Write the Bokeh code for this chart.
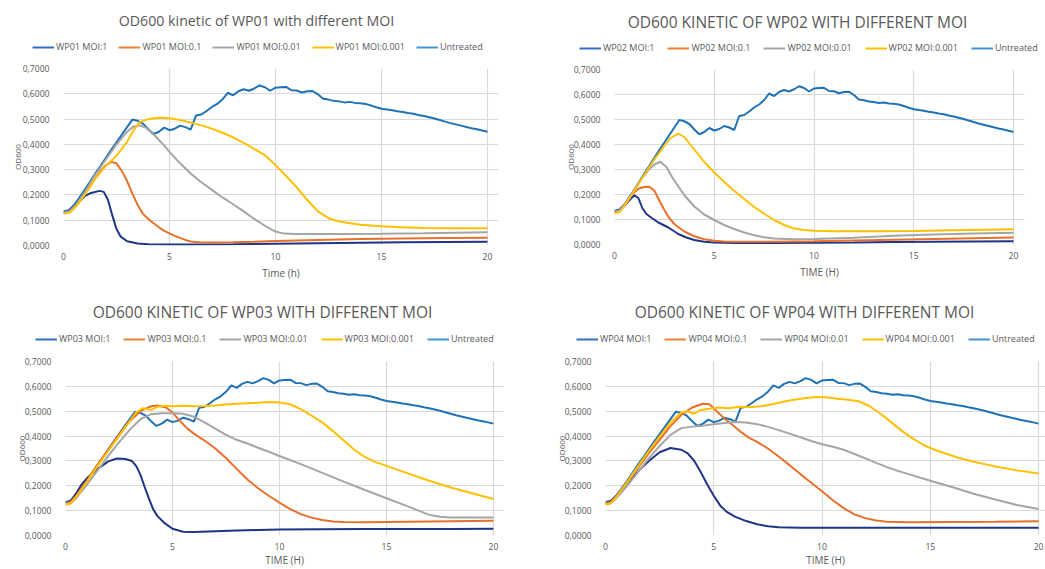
from bokeh.plotting import figure
from bokeh.layouts import column, row
from bokeh.models import (Legend, LegendItem, Label, FixedTicker,
                          CustomJSTickFormatter, Range1d)
from bokeh.embed import file_html
from bokeh.resources import INLINE

# ---------------------------------------------------------------------------
# OD600 readings, (time in hours, OD600)
# ---------------------------------------------------------------------------
UNTREATED = [
    (0, 0.135), (0.25, 0.140), (0.5, 0.160), (0.75, 0.190), (1.0, 0.220),
    (1.25, 0.252), (1.5, 0.285), (1.75, 0.315), (2.0, 0.347), (2.25, 0.378),
    (2.5, 0.408), (2.75, 0.438), (3.0, 0.468), (3.25, 0.498), (3.5, 0.493),
    (3.75, 0.482), (4.0, 0.460), (4.25, 0.441), (4.5, 0.450), (4.75, 0.466),
    (5.0, 0.456), (5.25, 0.462), (5.5, 0.474), (5.75, 0.468), (6.0, 0.458),
    (6.25, 0.514), (6.5, 0.518), (6.75, 0.532), (7.0, 0.548), (7.25, 0.560),
    (7.5, 0.578), (7.75, 0.604), (8.0, 0.594), (8.25, 0.610), (8.5, 0.618),
    (8.75, 0.612), (9.0, 0.621), (9.25, 0.633), (9.5, 0.626), (9.75, 0.612),
    (10.0, 0.624), (10.25, 0.626), (10.5, 0.627), (10.75, 0.614), (11.0, 0.613),
    (11.25, 0.605), (11.5, 0.610), (11.75, 0.611), (12.0, 0.598), (12.25, 0.580),
    (12.5, 0.577), (12.75, 0.572), (13.0, 0.570), (13.25, 0.566), (13.5, 0.568),
    (13.75, 0.564), (14.0, 0.563), (14.25, 0.560), (14.5, 0.554), (14.75, 0.547),
    (15.0, 0.541), (15.25, 0.538), (15.5, 0.535), (15.75, 0.531), (16.0, 0.528),
    (16.25, 0.524), (16.5, 0.521), (16.75, 0.516), (17.0, 0.512), (17.25, 0.507),
    (17.5, 0.502), (17.75, 0.496), (18.0, 0.490), (18.25, 0.484), (18.5, 0.479),
    (18.75, 0.474), (19.0, 0.469), (19.25, 0.464), (19.5, 0.460), (19.75, 0.455),
    (20.0, 0.450),
]

WP01_MOI_1 = [
    (0, 0.130), (0.3, 0.132), (0.6, 0.160), (1.0, 0.195), (1.3, 0.208),
    (1.7, 0.216), (1.9, 0.212), (2.1, 0.180), (2.3, 0.120), (2.5, 0.065),
    (2.7, 0.035), (3.0, 0.017), (3.5, 0.008), (4.0, 0.005), (5.0, 0.004),
    (6.0, 0.004), (8.0, 0.005), (10.0, 0.007), (12.0, 0.009), (14.0, 0.011),
    (16.0, 0.013), (18.0, 0.014), (20.0, 0.015),
]
WP01_MOI_0_1 = [
    (0, 0.130), (0.25, 0.132), (0.5, 0.150), (0.75, 0.175), (1.0, 0.205),
    (1.25, 0.235), (1.5, 0.265), (1.75, 0.295), (2.0, 0.318), (2.25, 0.330),
    (2.5, 0.325), (2.75, 0.295), (3.0, 0.255), (3.25, 0.205), (3.5, 0.160),
    (3.75, 0.125), (4.0, 0.105), (4.25, 0.088), (4.5, 0.072), (4.75, 0.058),
    (5.0, 0.048), (5.25, 0.038), (5.5, 0.030), (5.75, 0.022), (6.0, 0.016),
    (6.5, 0.012), (7.0, 0.012), (8.0, 0.013), (9.0, 0.015), (10.0, 0.018),
    (11.0, 0.020), (12.0, 0.022), (13.0, 0.024), (14.0, 0.026), (15.0, 0.027),
    (16.0, 0.028), (17.0, 0.029), (18.0, 0.030), (20.0, 0.031),
]
WP01_MOI_0_01 = [
    (0, 0.130), (0.3, 0.135), (0.6, 0.160), (1.0, 0.210), (1.5, 0.280),
    (2.0, 0.340), (2.5, 0.400), (3.0, 0.450), (3.3, 0.470), (3.6, 0.475),
    (3.9, 0.465), (4.3, 0.435), (4.7, 0.400), (5.0, 0.370), (5.5, 0.325),
    (6.0, 0.285), (6.5, 0.250), (7.0, 0.220), (7.5, 0.190), (8.0, 0.163),
    (8.5, 0.135), (9.0, 0.105), (9.5, 0.078), (10.0, 0.055), (10.4, 0.047),
    (11.0, 0.045), (13.0, 0.045), (15.0, 0.046), (17.0, 0.048), (20.0, 0.052),
]
WP01_MOI_0_001 = [
    (0, 0.125), (0.3, 0.130), (0.6, 0.155), (1.0, 0.200), (1.5, 0.265),
    (2.0, 0.315), (2.5, 0.355), (3.0, 0.410), (3.3, 0.455), (3.6, 0.488),
    (4.0, 0.500), (4.5, 0.505), (5.0, 0.503), (5.5, 0.496), (6.0, 0.486),
    (6.5, 0.475), (7.0, 0.462), (7.5, 0.446), (8.0, 0.428), (8.5, 0.406),
    (9.0, 0.382), (9.5, 0.357), (10.0, 0.318), (10.5, 0.275), (11.0, 0.230),
    (11.5, 0.180), (12.0, 0.135), (12.5, 0.108), (13.0, 0.095), (14.0, 0.082),
    (15.0, 0.076), (16.0, 0.072), (17.0, 0.069), (18.0, 0.068), (20.0, 0.068),
]

WP02_MOI_1 = [
    (0, 0.130), (0.25, 0.135), (0.5, 0.155), (0.75, 0.178), (1.0, 0.197),
    (1.2, 0.185), (1.4, 0.145), (1.6, 0.122), (1.8, 0.110), (2.2, 0.088),
    (2.7, 0.068), (3.2, 0.042), (3.6, 0.028), (4.0, 0.018), (4.5, 0.011),
    (5.0, 0.008), (6.0, 0.006), (8.0, 0.006), (10.0, 0.007), (12.0, 0.008),
    (14.0, 0.010), (16.0, 0.011), (18.0, 0.012), (20.0, 0.013),
]
WP02_MOI_0_1 = [
    (0, 0.130), (0.25, 0.135), (0.5, 0.157), (0.75, 0.185), (1.0, 0.210),
    (1.25, 0.225), (1.5, 0.230), (1.75, 0.231), (2.0, 0.215), (2.25, 0.175),
    (2.5, 0.138), (2.75, 0.105), (3.0, 0.082), (3.25, 0.066), (3.5, 0.052),
    (4.0, 0.033), (4.5, 0.021), (5.0, 0.015), (5.5, 0.012), (6.0, 0.011),
    (8.0, 0.011), (10.0, 0.013), (12.0, 0.016), (14.0, 0.019), (16.0, 0.022),
    (18.0, 0.025), (20.0, 0.028),
]
WP02_MOI_0_01 = [
    (0, 0.130), (0.25, 0.135), (0.5, 0.158), (0.75, 0.188), (1.0, 0.220),
    (1.25, 0.250), (1.5, 0.278), (1.75, 0.302), (2.0, 0.320), (2.3, 0.331),
    (2.6, 0.310), (2.9, 0.268), (3.2, 0.232), (3.5, 0.197), (4.0, 0.152),
    (4.5, 0.120), (5.0, 0.098), (5.5, 0.078), (6.0, 0.062), (6.5, 0.048),
    (7.0, 0.037), (7.5, 0.029), (8.0, 0.024), (9.0, 0.021), (10.0, 0.022),
    (12.0, 0.027), (14.0, 0.035), (16.0, 0.040), (18.0, 0.044), (20.0, 0.047),
]
WP02_MOI_0_001 = [
    (0, 0.125), (0.25, 0.130), (0.5, 0.155), (0.75, 0.185), (1.0, 0.215),
    (1.5, 0.280), (2.0, 0.340), (2.5, 0.395), (2.8, 0.425), (3.2, 0.444),
    (3.5, 0.430), (3.9, 0.390), (4.5, 0.330), (5.0, 0.288), (5.5, 0.250),
    (6.0, 0.215), (6.5, 0.182), (7.0, 0.150), (7.5, 0.123), (8.0, 0.098),
    (8.5, 0.078), (9.0, 0.064), (9.5, 0.058), (10.0, 0.055), (11.0, 0.053),
    (13.0, 0.053), (15.0, 0.054), (17.0, 0.057), (20.0, 0.061),
]

WP03_MOI_1 = [
    (0, 0.130), (0.25, 0.140), (0.5, 0.170), (0.75, 0.205), (1.0, 0.230),
    (1.5, 0.268), (2.0, 0.298), (2.4, 0.310), (2.8, 0.308), (3.1, 0.300),
    (3.3, 0.280), (3.5, 0.245), (3.7, 0.195), (3.9, 0.148), (4.1, 0.105),
    (4.3, 0.078), (4.6, 0.052), (5.0, 0.027), (5.5, 0.015), (6.0, 0.014),
    (7.0, 0.017), (8.0, 0.020), (9.0, 0.022), (10.0, 0.024), (12.0, 0.025),
    (14.0, 0.026), (16.0, 0.026), (18.0, 0.026), (20.0, 0.027),
]
WP03_MOI_0_1 = [
    (0, 0.130), (0.25, 0.135), (0.5, 0.160), (0.75, 0.190), (1.0, 0.220),
    (1.5, 0.285), (2.0, 0.345), (2.5, 0.405), (3.0, 0.460), (3.5, 0.500),
    (4.0, 0.520), (4.3, 0.523), (4.7, 0.515), (5.0, 0.495), (5.3, 0.465),
    (5.7, 0.430), (6.0, 0.410), (6.5, 0.382), (7.0, 0.350), (7.5, 0.312),
    (8.0, 0.268), (8.5, 0.225), (9.0, 0.190), (9.5, 0.160), (10.0, 0.132),
    (10.5, 0.106), (11.0, 0.086), (11.5, 0.072), (12.0, 0.062), (12.5, 0.056),
    (13.0, 0.054), (14.0, 0.053), (16.0, 0.055), (18.0, 0.057), (20.0, 0.059),
]
WP03_MOI_0_01 = [
    (0, 0.125), (0.25, 0.130), (0.5, 0.150), (0.75, 0.178), (1.0, 0.205),
    (1.5, 0.262), (2.0, 0.320), (2.5, 0.375), (3.0, 0.425), (3.5, 0.468),
    (4.0, 0.488), (4.5, 0.492), (5.0, 0.492), (5.5, 0.490), (6.0, 0.478),
    (6.5, 0.455), (7.0, 0.430), (7.5, 0.405), (8.0, 0.385), (8.5, 0.370),
    (9.0, 0.353), (9.5, 0.337), (10.0, 0.320), (11.0, 0.287), (12.0, 0.252),
    (13.0, 0.217), (14.0, 0.183), (15.0, 0.150), (16.0, 0.117), (16.5, 0.100),
    (17.0, 0.083), (17.5, 0.075), (18.0, 0.072), (20.0, 0.072),
]
WP03_MOI_0_001 = [
    (0, 0.125), (0.25, 0.130), (0.5, 0.155), (0.75, 0.185), (1.0, 0.215),
    (1.5, 0.280), (2.0, 0.340), (2.5, 0.400), (3.0, 0.460), (3.3, 0.495),
    (3.6, 0.512), (4.0, 0.505), (4.3, 0.518), (4.7, 0.522), (5.0, 0.520),
    (5.5, 0.522), (6.0, 0.520), (6.5, 0.521), (7.0, 0.523), (7.5, 0.527),
    (8.0, 0.530), (8.5, 0.532), (9.0, 0.534), (9.5, 0.537), (10.0, 0.535),
    (10.5, 0.528), (11.0, 0.508), (11.5, 0.482), (12.0, 0.455), (12.5, 0.420),
    (13.0, 0.382), (13.5, 0.345), (14.0, 0.315), (14.5, 0.295), (15.0, 0.280),
    (15.5, 0.265), (16.0, 0.250), (17.0, 0.220), (18.0, 0.193), (19.0, 0.170),
    (20.0, 0.147),
]

WP04_MOI_1 = [
    (0, 0.130), (0.25, 0.137), (0.5, 0.160), (0.75, 0.185), (1.0, 0.210),
    (1.5, 0.258), (2.0, 0.300), (2.5, 0.335), (3.0, 0.352), (3.5, 0.345),
    (3.8, 0.330), (4.1, 0.300), (4.4, 0.255), (4.7, 0.205), (5.0, 0.160),
    (5.3, 0.120), (5.6, 0.095), (6.0, 0.075), (6.5, 0.058), (7.0, 0.045),
    (7.5, 0.037), (8.0, 0.033), (9.0, 0.031), (12.0, 0.031), (16.0, 0.031),
    (20.0, 0.031),
]
WP04_MOI_0_1 = [
    (0, 0.130), (0.25, 0.135), (0.5, 0.157), (0.75, 0.185), (1.0, 0.213),
    (1.5, 0.272), (2.0, 0.330), (2.5, 0.385), (3.0, 0.440), (3.5, 0.485),
    (4.0, 0.515), (4.5, 0.530), (4.8, 0.528), (5.2, 0.495), (5.5, 0.470),
    (5.8, 0.450), (6.2, 0.420), (6.6, 0.395), (7.0, 0.377), (7.5, 0.350),
    (8.0, 0.318), (8.5, 0.283), (9.0, 0.247), (9.5, 0.212), (10.0, 0.178),
    (10.5, 0.142), (11.0, 0.110), (11.5, 0.085), (12.0, 0.070), (12.5, 0.060),
    (13.0, 0.055), (14.0, 0.053), (16.0, 0.054), (18.0, 0.055), (20.0, 0.057),
]
WP04_MOI_0_01 = [
    (0, 0.125), (0.25, 0.130), (0.5, 0.150), (0.75, 0.175), (1.0, 0.200),
    (1.5, 0.255), (2.0, 0.310), (2.5, 0.360), (3.0, 0.405), (3.5, 0.432),
    (4.0, 0.438), (4.5, 0.442), (5.0, 0.448), (5.5, 0.453), (6.0, 0.457),
    (6.5, 0.455), (7.0, 0.448), (7.5, 0.437), (8.0, 0.424), (8.5, 0.410),
    (9.0, 0.395), (9.5, 0.380), (10.0, 0.367), (10.5, 0.357), (11.0, 0.345),
    (11.5, 0.328), (12.0, 0.310), (12.5, 0.292), (13.0, 0.275), (13.5, 0.260),
    (14.0, 0.247), (15.0, 0.220), (16.0, 0.195), (17.0, 0.168), (18.0, 0.145),
    (19.0, 0.123), (20.0, 0.107),
]
WP04_MOI_0_001 = [
    (0, 0.125), (0.25, 0.130), (0.5, 0.155), (0.75, 0.185), (1.0, 0.215),
    (1.5, 0.278), (2.0, 0.340), (2.5, 0.398), (3.0, 0.455), (3.5, 0.495),
    (3.8, 0.500), (4.1, 0.490), (4.4, 0.505), (4.8, 0.510), (5.2, 0.515),
    (5.7, 0.512), (6.2, 0.518), (6.7, 0.517), (7.2, 0.520), (7.7, 0.528),
    (8.2, 0.538), (8.7, 0.546), (9.2, 0.552), (9.7, 0.557), (10.2, 0.556),
    (10.7, 0.550), (11.2, 0.546), (11.7, 0.540), (12.2, 0.520), (12.7, 0.490),
    (13.2, 0.455), (13.7, 0.420), (14.2, 0.390), (14.7, 0.363), (15.2, 0.345),
    (15.7, 0.330), (16.3, 0.313), (17.0, 0.297), (18.0, 0.278), (19.0, 0.262),
    (20.0, 0.249),
]

MOI_LABELS = ["MOI:1", "MOI:0.1", "MOI:0.01", "MOI:0.001"]
TIME_TICKS = [0, 5, 10, 15, 20]
OD_TICKS = [0, 0.1, 0.2, 0.3, 0.4, 0.5, 0.6, 0.7]

# ---------------------------------------------------------------------------
# styling
# ---------------------------------------------------------------------------
FONT = "Open Sans"
TEXT_GREY = "#595959"
GRID_GREY = "#d9d9d9"
SERIES_COLORS = ["#1f3585", "#e8702a", "#a5a5a5", "#ffc000", "#1f72b5"]
LEGEND_COLORS = ["#2f6fc4", "#f07f34", "#a5a5a5", "#ffc000", "#3d95d8"]
NAN = float("nan")


def unzip(points):
    return [p[0] for p in points], [p[1] for p in points]


def make_header(phage, title, geo):
    """Title and horizontal legend strip drawn above each chart."""
    w, hh = geo["w"], geo["top"] - 7
    h = figure(width=w, height=hh, x_range=Range1d(0, w), y_range=Range1d(0, hh),
               x_axis_type=None, y_axis_type=None, min_border=0,
               min_border_left=0, min_border_right=0,
               min_border_top=0, min_border_bottom=0,
               output_backend="svg", toolbar_location=None)
    h.frame_align = False
    h.outline_line_color = None
    h.xgrid.visible = False
    h.ygrid.visible = False

    h.add_layout(Label(x=geo["t_x"], y=hh - geo["t_y"], text=title,
                       text_align="center", text_baseline="middle",
                       text_font=FONT, text_font_size=geo["t_size"],
                       text_color=TEXT_GREY))

    labels = [f"{phage} {m}" for m in MOI_LABELS] + ["Untreated"]
    # legend swatches: line renderers that hold no plottable point
    swatches = [h.line([NAN], [NAN], line_color=c, line_width=2)
                for c in LEGEND_COLORS]
    items = [LegendItem(label=lab, renderers=[r]) for lab, r in zip(labels, swatches)]
    legend = Legend(items=items, orientation="horizontal",
                    location=(geo["leg_x"], hh - geo["leg_y"] - 6),
                    margin=0, padding=0, spacing=geo["leg_sp"],
                    glyph_width=22, glyph_height=10, label_height=10,
                    label_standoff=2, label_text_font=FONT,
                    label_text_font_size="9px", label_text_color=TEXT_GREY,
                    border_line_color=None, background_fill_alpha=0)
    h.add_layout(legend, "center")
    return h


def make_chart(series, xlabel, geo):
    hh = geo["top"] - 7
    p = figure(width=geo["w"], height=geo["h"] - hh,
               x_range=Range1d(0, geo["x_end"]), y_range=Range1d(0, 0.7),
               min_border_left=geo["left"], min_border_right=geo["right"],
               min_border_top=7, min_border_bottom=geo["bottom"],
               output_backend="svg", toolbar_location=None)
    p.frame_align = False
    p.outline_line_color = None

    p.xaxis.ticker = FixedTicker(ticks=TIME_TICKS)
    p.yaxis.ticker = FixedTicker(ticks=OD_TICKS)
    p.yaxis.formatter = CustomJSTickFormatter(
        code="return tick.toFixed(4).replace('.', ',');")
    for ax in (p.xaxis[0], p.yaxis[0]):
        ax.axis_line_color = None
        ax.major_tick_line_color = None
        ax.minor_tick_line_color = None
        ax.major_label_text_font = FONT
        ax.major_label_text_font_size = "8.6px"
        ax.major_label_text_color = TEXT_GREY
        ax.axis_label_text_font = FONT
        ax.axis_label_text_font_style = "normal"
        ax.axis_label_text_color = TEXT_GREY
    p.xaxis.axis_label = xlabel
    p.xaxis.axis_label_text_font_size = "10px"
    p.xaxis.major_tick_out = 0
    p.xaxis.major_tick_in = 0
    p.xaxis.major_label_standoff = geo["xstand"]
    p.xaxis.axis_label_standoff = geo["xlab_stand"]
    p.yaxis.axis_label = "OD600"
    p.yaxis.axis_label_text_font_size = "8px"
    p.yaxis.major_label_standoff = 8
    p.yaxis.axis_label_standoff = geo["ylab_stand"]

    p.xgrid.grid_line_color = GRID_GREY
    p.ygrid.grid_line_color = GRID_GREY
    p.xgrid.grid_line_width = 1.2
    p.ygrid.grid_line_width = 1.2

    # untreated first so the infected cultures are drawn over it
    for i in [4, 0, 1, 2, 3]:
        xs, ys = unzip(series[i])
        p.line(xs, ys, line_color=SERIES_COLORS[i], line_width=2)
    return p


def panel(phage, series, title, xlabel, geo):
    return column(make_header(phage, title, geo), make_chart(series, xlabel, geo))


g1 = dict(w=525, h=284, left=63, right=27, top=68, bottom=39, x_end=20.52,
          xstand=7, xlab_stand=3, ylab_stand=-3, leg_x=32, leg_y=47, leg_sp=11,
          t_x=256, t_y=20, t_size="14.2px")
g2 = dict(w=520, h=284, left=89, right=21, top=69, bottom=40, x_end=20.55,
          xstand=7, xlab_stand=3, ylab_stand=-5, leg_x=54, leg_y=48, leg_sp=13,
          t_x=272, t_y=21, t_size="15.5px")
g3 = dict(w=525, h=285, left=65, right=22, top=77, bottom=33, x_end=20.47,
          xstand=7, xlab_stand=0, ylab_stand=-5, leg_x=35, leg_y=55, leg_sp=13,
          t_x=262, t_y=27, t_size="15.5px")
g4 = dict(w=520, h=285, left=80, right=0, top=77, bottom=33, x_end=20.32,
          xstand=7, xlab_stand=0, ylab_stand=-5, leg_x=51, leg_y=55, leg_sp=13,
          t_x=279, t_y=27, t_size="15.5px")

layout = column(
    row(panel("WP01", [WP01_MOI_1, WP01_MOI_0_1, WP01_MOI_0_01, WP01_MOI_0_001, UNTREATED],
              "OD600 kinetic of WP01 with different MOI", "Time (h)", g1),
        panel("WP02", [WP02_MOI_1, WP02_MOI_0_1, WP02_MOI_0_01, WP02_MOI_0_001, UNTREATED],
              "OD600 KINETIC OF WP02 WITH DIFFERENT MOI", "TIME (H)", g2)),
    row(panel("WP03", [WP03_MOI_1, WP03_MOI_0_1, WP03_MOI_0_01, WP03_MOI_0_001, UNTREATED],
              "OD600 KINETIC OF WP03 WITH DIFFERENT MOI", "TIME (H)", g3),
        panel("WP04", [WP04_MOI_1, WP04_MOI_0_1, WP04_MOI_0_01, WP04_MOI_0_001, UNTREATED],
              "OD600 KINETIC OF WP04 WITH DIFFERENT MOI", "TIME (H)", g4)),
)
open("out.html", "w").write(file_html(layout, INLINE))
